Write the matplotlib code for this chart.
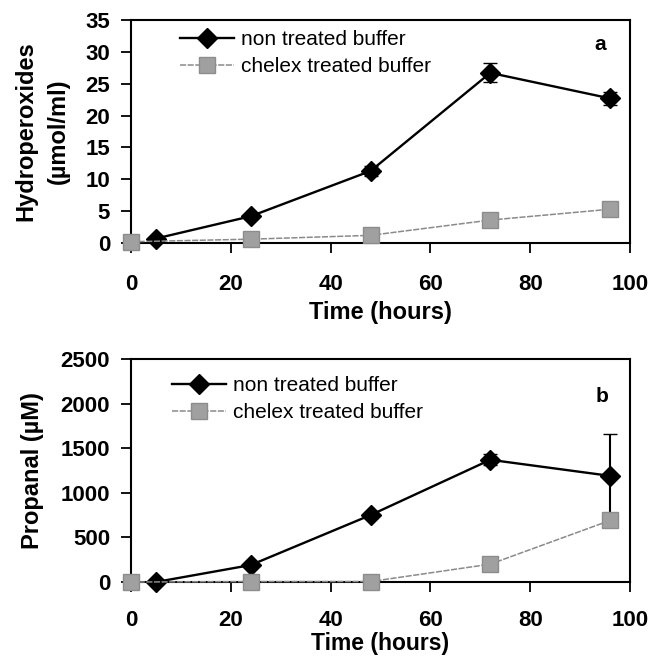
import matplotlib
matplotlib.use("Agg")
import matplotlib.pyplot as plt

plt.rcParams['font.family'] = ['Liberation Sans', 'DejaVu Sans']

# Panel a: hydroperoxides
a_x_non = [5, 24, 48, 72, 96]
a_y_non = [0.7, 4.2, 11.3, 26.7, 22.7]
a_e_non = [0.3, 0.4, 0.8, 1.5, 1.0]
a_x_chx = [0, 24, 48, 72, 96]
a_y_chx = [0.2, 0.6, 1.2, 3.6, 5.3]

# Panel b: propanal
b_x_non = [5, 24, 48, 72, 96]
b_y_non = [0, 190, 750, 1370, 1190]
b_e_non = [0, 20, 30, 60, 470]
b_x_chx = [0, 24, 48, 72, 96]
b_y_chx = [0, 5, 5, 200, 690]

xticks = [0, 20, 40, 60, 80, 100]
a_yticks = [0, 5, 10, 15, 20, 25, 30, 35]
b_yticks = [0, 500, 1000, 1500, 2000, 2500]

fig = plt.figure(figsize=(6.63, 6.58), dpi=100)
ax1 = fig.add_axes([0.1976, 0.6307, 0.7526, 0.3389])
ax2 = fig.add_axes([0.1976, 0.1155, 0.7526, 0.3389])

tickfont = dict(weight='bold', size=16)

def style(ax, yticks, ylim, xpad, lpad, lsize):
    ax.set_xlim(0, 100)
    ax.set_ylim(*ylim)
    ax.set_xticks(xticks)
    ax.set_yticks(yticks)
    ax.set_xticklabels([str(t) for t in xticks], **tickfont)
    ax.set_yticklabels([str(t) for t in yticks], **tickfont)
    ax.tick_params(direction='out', length=7, width=1.3, color='black')
    ax.tick_params(axis='x', pad=xpad)
    ax.tick_params(axis='y', pad=8)
    for s in ax.spines.values():
        s.set_linewidth(1.5)
    ax.set_xlabel('Time (hours)', fontsize=lsize, fontweight='bold', labelpad=lpad)

def draw(ax, xn, yn, en, xc, yc):
    cont = ax.errorbar(xn, yn, yerr=en, color='black', lw=1.7, marker='D', ms=10,
                       mfc='black', mec='black', capsize=5, elinewidth=1.5,
                       clip_on=False, zorder=3)
    for art in cont.lines[1] + cont.lines[2]:
        art.set_clip_on(False)
    hn, = ax.plot([], [], color='black', lw=1.7, marker='D', ms=10)
    hc, = ax.plot(xc, yc, color='#8a8a8a', lw=1.1, ls=(0, (4, 1)), marker='s', ms=12,
                  mfc='#a0a0a0', mec='#8c8c8c', mew=1.0, clip_on=False, zorder=4)
    return hn, hc

h1 = draw(ax1, a_x_non, a_y_non, a_e_non, a_x_chx, a_y_chx)
style(ax1, a_yticks, (0, 35), 15, 5, 17)
ax1.set_ylabel('Hydroperoxides\n(\u00b5mol/ml)', fontsize=17, fontweight='bold',
               linespacing=1.55)
ax1.yaxis.set_label_coords(-0.122, 0.5)
ax1.text(0.94, 0.892, 'a', transform=ax1.transAxes, fontsize=15, fontweight='bold',
         ha='center', va='center')

h2 = draw(ax2, b_x_non, b_y_non, b_e_non, b_x_chx, b_y_chx)
style(ax2, b_yticks, (0, 2500), 13, 1, 16.5)
ax2.set_ylabel('Propanal (\u00b5M)', fontsize=17, fontweight='bold')
ax2.yaxis.set_label_coords(-0.175, 0.5)
ax2.text(0.944, 0.83, 'b', transform=ax2.transAxes, fontsize=15, fontweight='bold',
         ha='center', va='center')

labels = ['non treated buffer', 'chelex treated buffer']
for ax, hs, loc in ((ax1, h1, (0.098, 0.955)), (ax2, h2, (0.082, 0.924))):
    ax.legend(list(hs), labels, loc='upper left', bbox_to_anchor=loc, frameon=False,
              fontsize=15, handlelength=2.6, handletextpad=0.35, labelspacing=0.4,
              borderaxespad=0, borderpad=0)

fig.savefig('out.png', dpi=100)
